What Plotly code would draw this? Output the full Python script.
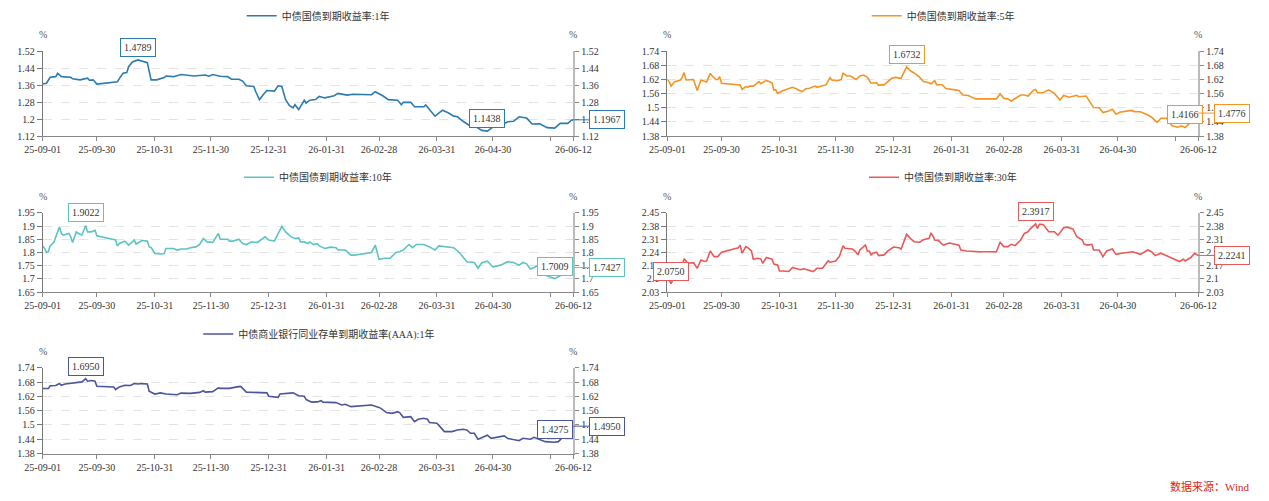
import plotly.graph_objects as go
import pandas as pd

BASE = "2025-09-01"
X_TICK_DATES = ["2025-09-01", "2025-09-30", "2025-10-31", "2025-11-30", "2025-12-31",
                "2026-01-31", "2026-02-28", "2026-03-31", "2026-04-30", "2026-05-31", "2026-06-12"]
X_TICK_TEXT = ["25-09-01", "25-09-30", "25-10-31", "25-11-30", "25-12-31",
               "26-01-31", "26-02-28", "26-03-31", "26-04-30", "", "26-06-12"]
X_END = "2026-06-12"

# ---- 中债国债到期收益率:1年 (days since BASE, %) ----
S1_NAME = "中债国债到期收益率:1年"
S1_DAYS = [0, 2, 4, 7, 8, 10, 15, 16, 20, 22, 24, 25, 27, 29, 40, 41, 43, 45, 46, 48, 51, 56, 57, 58, 61,
           65, 66, 70, 74, 81, 87, 89, 91, 95, 99, 101, 105, 107, 109, 113, 114, 116, 118, 120, 124, 126,
           128, 130, 132, 134, 135, 137, 140, 141, 143, 146, 148, 151, 156, 158, 163, 166, 176, 178, 182,
           185, 190, 192, 193, 197, 199, 204, 205, 208, 210, 214, 217, 220, 222, 225, 229, 232, 235, 238,
           240, 242, 245, 249, 252, 255, 259, 262, 266, 270, 274, 277, 281, 283, 284]
S1_VALS = [1.365, 1.369, 1.397, 1.400, 1.416, 1.400, 1.397, 1.390, 1.385, 1.388, 1.393, 1.383, 1.385,
           1.365, 1.376, 1.391, 1.416, 1.419, 1.447, 1.469, 1.4789, 1.466, 1.416, 1.385, 1.385, 1.396,
           1.403, 1.400, 1.410, 1.403, 1.408, 1.402, 1.410, 1.402, 1.400, 1.388, 1.388, 1.379, 1.357,
           1.354, 1.330, 1.292, 1.315, 1.335, 1.332, 1.357, 1.354, 1.292, 1.264, 1.253, 1.268, 1.245,
           1.289, 1.276, 1.289, 1.292, 1.307, 1.300, 1.310, 1.321, 1.313, 1.317, 1.315, 1.329, 1.310,
           1.292, 1.289, 1.268, 1.279, 1.279, 1.258, 1.258, 1.267, 1.237, 1.214, 1.242, 1.230, 1.214,
           1.211, 1.190, 1.167, 1.164, 1.147, 1.1438, 1.158, 1.170, 1.170, 1.188, 1.190, 1.211, 1.205,
           1.177, 1.178, 1.160, 1.158, 1.180, 1.180, 1.195, 1.1967]
Y1_TICKS = [1.12, 1.2, 1.28, 1.36, 1.44, 1.52]

# ---- 中债国债到期收益率:5年 ----
S2_NAME = "中债国债到期收益率:5年"
S2_DAYS = [0, 1, 2, 4, 7, 8, 9, 10, 14, 16, 18, 20, 21, 23, 24, 26, 27, 28, 29, 39, 40, 42, 43, 44, 46,
           49, 50, 53, 56, 57, 58, 59, 62, 67, 69, 72, 74, 76, 79, 80, 83, 85, 87, 88, 91, 93, 94, 96, 98,
           101, 103, 105, 107, 109, 112, 113, 115, 116, 120, 122, 125, 128, 130, 133, 135, 137, 140, 141,
           143, 144, 147, 149, 154, 156, 158, 161, 164, 165, 176, 178, 180, 182, 184, 186, 189, 191, 193,
           196, 197, 198, 201, 204, 207, 210, 212, 215, 219, 220, 224, 228, 231, 233, 236, 238, 240, 242,
           248, 250, 253, 257, 259, 262, 264, 267, 270, 273, 275, 277, 279, 282, 284]
S2_VALS = [1.620, 1.611, 1.592, 1.611, 1.618, 1.629, 1.649, 1.618, 1.620, 1.573, 1.618, 1.612, 1.609,
           1.646, 1.635, 1.620, 1.620, 1.632, 1.604, 1.597, 1.578, 1.590, 1.587, 1.592, 1.592, 1.611,
           1.602, 1.616, 1.606, 1.576, 1.576, 1.561, 1.573, 1.587, 1.581, 1.568, 1.581, 1.583, 1.592,
           1.587, 1.595, 1.598, 1.628, 1.618, 1.615, 1.620, 1.646, 1.635, 1.635, 1.620, 1.635, 1.639,
           1.629, 1.604, 1.606, 1.595, 1.598, 1.597, 1.625, 1.629, 1.625, 1.6732, 1.657, 1.643, 1.629,
           1.611, 1.606, 1.601, 1.615, 1.598, 1.598, 1.582, 1.576, 1.573, 1.554, 1.552, 1.540, 1.538,
           1.538, 1.559, 1.540, 1.538, 1.529, 1.538, 1.554, 1.554, 1.550, 1.576, 1.578, 1.564, 1.564,
           1.576, 1.561, 1.533, 1.552, 1.545, 1.553, 1.547, 1.550, 1.501, 1.500, 1.480, 1.486, 1.494,
           1.473, 1.481, 1.489, 1.484, 1.483, 1.470, 1.460, 1.438, 1.456, 1.456, 1.424, 1.418, 1.424,
           1.4166, 1.432, 1.455, 1.4776]
Y2_TICKS = [1.38, 1.44, 1.5, 1.56, 1.62, 1.68, 1.74]

# ---- 中债国债到期收益率:10年 ----
S3_NAME = "中债国债到期收益率:10年"
S3_DAYS = [0, 1, 2, 3, 4, 6, 7, 9, 10, 11, 14, 15, 16, 18, 19, 21, 23, 24, 26, 28, 29, 39, 40, 41, 43,
           44, 46, 49, 50, 53, 56, 57, 58, 60, 63, 65, 66, 70, 72, 74, 77, 79, 82, 84, 86, 88, 91, 94, 95,
           99, 100, 102, 105, 107, 109, 112, 114, 115, 119, 121, 124, 128, 130, 133, 135, 137, 138, 140,
           142, 143, 145, 147, 148, 151, 154, 157, 158, 162, 165, 167, 176, 178, 180, 183, 186, 189, 191,
           193, 196, 198, 200, 204, 207, 210, 212, 216, 220, 223, 227, 231, 233, 235, 238, 241, 245, 249,
           252, 255, 257, 259, 261, 263, 265, 267, 270, 274, 276, 279, 284]
S3_VALS = [1.824, 1.815, 1.800, 1.803, 1.825, 1.838, 1.859, 1.897, 1.872, 1.866, 1.872, 1.859, 1.838,
           1.878, 1.872, 1.866, 1.9022, 1.878, 1.878, 1.884, 1.863, 1.847, 1.824, 1.834, 1.840, 1.843,
           1.828, 1.847, 1.832, 1.845, 1.843, 1.821, 1.819, 1.796, 1.794, 1.796, 1.815, 1.815, 1.809,
           1.813, 1.813, 1.818, 1.821, 1.830, 1.853, 1.840, 1.838, 1.872, 1.850, 1.850, 1.843, 1.843,
           1.850, 1.834, 1.830, 1.840, 1.838, 1.838, 1.859, 1.847, 1.843, 1.899, 1.878, 1.859, 1.853,
           1.855, 1.840, 1.840, 1.834, 1.840, 1.830, 1.833, 1.825, 1.815, 1.820, 1.818, 1.809, 1.809,
           1.790, 1.790, 1.800, 1.828, 1.774, 1.778, 1.778, 1.800, 1.803, 1.809, 1.830, 1.818, 1.830,
           1.830, 1.821, 1.809, 1.825, 1.821, 1.818, 1.800, 1.765, 1.762, 1.740, 1.761, 1.767, 1.745,
           1.752, 1.765, 1.762, 1.752, 1.762, 1.757, 1.737, 1.743, 1.752, 1.758, 1.711, 1.7009, 1.708,
           1.721, 1.7427]
Y3_TICKS = [1.65, 1.7, 1.75, 1.8, 1.85, 1.9, 1.95]

# ---- 中债国债到期收益率:30年 ----
S4_NAME = "中债国债到期收益率:30年"
S4_DAYS = [0, 1, 2, 3, 4, 6, 8, 9, 10, 11, 14, 16, 18, 20, 21, 23, 25, 27, 29, 38, 39, 40, 42, 43, 45,
           46, 48, 50, 51, 53, 56, 57, 59, 60, 62, 65, 67, 69, 71, 73, 75, 78, 80, 83, 86, 87, 90, 92, 94,
           95, 99, 101, 102, 103, 105, 106, 107, 108, 109, 110, 112, 113, 116, 118, 121, 124, 125, 128,
           130, 132, 135, 137, 140, 141, 142, 143, 145, 147, 148, 149, 151, 156, 157, 160, 167, 176, 178,
           180, 182, 184, 186, 189, 191, 193, 194, 197, 198, 199, 201, 204, 207, 209, 212, 214, 217, 219,
           222, 223, 225, 227, 228, 231, 233, 235, 238, 240, 243, 249, 253, 257, 259, 261, 264, 267, 271,
           274, 276, 277, 280, 282, 284]
S4_VALS = [2.112, 2.090, 2.0750, 2.095, 2.130, 2.156, 2.174, 2.206, 2.195, 2.183, 2.186, 2.156, 2.200,
           2.192, 2.195, 2.248, 2.218, 2.218, 2.241, 2.265, 2.279, 2.236, 2.271, 2.265, 2.248, 2.204,
           2.209, 2.206, 2.183, 2.213, 2.204, 2.178, 2.174, 2.142, 2.142, 2.139, 2.160, 2.153, 2.148,
           2.153, 2.148, 2.139, 2.156, 2.156, 2.195, 2.188, 2.195, 2.218, 2.276, 2.262, 2.258, 2.241,
           2.227, 2.253, 2.271, 2.279, 2.248, 2.248, 2.227, 2.236, 2.241, 2.223, 2.227, 2.248, 2.269,
           2.265, 2.257, 2.336, 2.315, 2.297, 2.294, 2.308, 2.315, 2.341, 2.329, 2.306, 2.304, 2.283,
           2.279, 2.285, 2.290, 2.279, 2.253, 2.248, 2.244, 2.244, 2.294, 2.271, 2.271, 2.283, 2.276,
           2.306, 2.341, 2.350, 2.364, 2.3917, 2.367, 2.389, 2.388, 2.350, 2.350, 2.332, 2.371, 2.374,
           2.364, 2.323, 2.306, 2.283, 2.279, 2.283, 2.253, 2.253, 2.218, 2.248, 2.258, 2.230, 2.236,
           2.244, 2.230, 2.253, 2.244, 2.223, 2.236, 2.223, 2.206, 2.192, 2.204, 2.195, 2.213, 2.236,
           2.2241]
Y4_TICKS = [2.03, 2.1, 2.17, 2.24, 2.31, 2.38, 2.45]

# ---- 中债商业银行同业存单到期收益率(AAA):1年 ----
S5_NAME = "中债商业银行同业存单到期收益率(AAA):1年"
S5_DAYS = [0, 3, 4, 7, 9, 10, 12, 14, 15, 19, 21, 23, 24, 26, 28, 29, 38, 39, 41, 44, 47, 49, 51, 53,
           56, 57, 60, 63, 66, 72, 74, 79, 84, 86, 87, 91, 94, 95, 100, 104, 106, 109, 113, 120, 121, 126,
           127, 130, 134, 137, 140, 141, 144, 147, 149, 150, 157, 160, 162, 165, 176, 180, 181, 184, 187,
           190, 191, 193, 195, 197, 199, 201, 204, 206, 207, 211, 213, 215, 219, 222, 225, 227, 229, 231,
           233, 236, 238, 240, 243, 247, 249, 252, 255, 257, 259, 261, 263, 269, 274, 276, 279, 282, 283,
           284]
S5_VALS = [1.653, 1.653, 1.665, 1.666, 1.674, 1.667, 1.672, 1.674, 1.672, 1.676, 1.681, 1.6950, 1.684,
           1.687, 1.684, 1.663, 1.660, 1.649, 1.660, 1.667, 1.666, 1.674, 1.672, 1.674, 1.672, 1.642,
           1.630, 1.635, 1.630, 1.627, 1.634, 1.633, 1.637, 1.644, 1.638, 1.640, 1.656, 1.654, 1.654,
           1.660, 1.662, 1.638, 1.638, 1.635, 1.621, 1.616, 1.630, 1.633, 1.635, 1.623, 1.621, 1.607,
           1.596, 1.597, 1.602, 1.596, 1.594, 1.584, 1.587, 1.577, 1.584, 1.574, 1.570, 1.552, 1.549,
           1.556, 1.552, 1.532, 1.535, 1.535, 1.514, 1.524, 1.528, 1.524, 1.510, 1.507, 1.490, 1.472,
           1.472, 1.479, 1.482, 1.479, 1.465, 1.465, 1.440, 1.451, 1.457, 1.444, 1.449, 1.454, 1.443,
           1.437, 1.434, 1.444, 1.443, 1.440, 1.448, 1.430, 1.4275, 1.430, 1.454, 1.472, 1.490, 1.495]
Y5_TICKS = [1.38, 1.44, 1.5, 1.56, 1.62, 1.68, 1.74]

COLORS = ["#2C7BB0", "#F39425", "#5CC5C4", "#E8595A", "#4A5697"]
SOURCE_TEXT = "数据来源：Wind"

W, H = 1269, 501
FONT = "'Liberation Serif', 'Times New Roman', 'Noto Sans CJK SC', serif"


def fx(p):
    return p / W


def fy(p):
    return 1 - p / H


# pixel layout of each panel: (x0, x1), (ytop, ybottom), legend text start x / centre y
panels = [
    dict(name=S1_NAME, days=S1_DAYS, vals=S1_VALS, ticks=Y1_TICKS, xd=(42.7, 573.3), yd=(51.0, 136.3), lg=(282.7, 16.7)),
    dict(name=S2_NAME, days=S2_DAYS, vals=S2_VALS, ticks=Y2_TICKS, xd=(667.3, 1198.3), yd=(51.0, 136.3), lg=(907.7, 16.7)),
    dict(name=S3_NAME, days=S3_DAYS, vals=S3_VALS, ticks=Y3_TICKS, xd=(42.7, 573.3), yd=(212.7, 292.2), lg=(280.0, 178.3)),
    dict(name=S4_NAME, days=S4_DAYS, vals=S4_VALS, ticks=Y4_TICKS, xd=(667.3, 1198.3), yd=(212.7, 292.2), lg=(905.0, 178.3)),
    dict(name=S5_NAME, days=S5_DAYS, vals=S5_VALS, ticks=Y5_TICKS, xd=(42.7, 573.3), yd=(367.7, 453.7), lg=(239.3, 335.0)),
]

fig = go.Figure()
layout = dict(template="none", width=W, height=H, autosize=False, margin=dict(l=0, r=0, t=0, b=0, pad=0),
              paper_bgcolor="white", plot_bgcolor="white",
              font=dict(family=FONT, size=10, color="#333"), hovermode=False)
annotations = []
base = pd.Timestamp(BASE)

for i, p in enumerate(panels, start=1):
    color = COLORS[i - 1]
    xa = "x" if i == 1 else f"x{i}"
    ya = "y" if i == 1 else f"y{i}"
    yr = f"y{i + 5}"
    leg = "legend" if i == 1 else f"legend{i}"
    dates = [base + pd.Timedelta(days=d) for d in p["days"]]
    vals = p["vals"]
    fig.add_trace(go.Scatter(x=dates, y=vals, mode="lines", name=p["name"],
                             line=dict(color=color, width=1.6),
                             xaxis=xa, yaxis=ya, legend=leg, showlegend=True))
    # same series bound to the right-hand axis so that axis is drawn (invisible line)
    fig.add_trace(go.Scatter(x=dates, y=vals, mode="lines", name=p["name"],
                             line=dict(color="rgba(0,0,0,0)", width=0),
                             xaxis=xa, yaxis=yr, showlegend=False, hoverinfo="skip"))

    lo, hi = min(p["ticks"]), max(p["ticks"])
    eps = (hi - lo) * 0.002
    ticktext = [f"{t:g}" for t in p["ticks"]]
    xdom = [fx(p["xd"][0]), fx(p["xd"][1])]
    ydom = [fy(p["yd"][1]), fy(p["yd"][0])]

    layout["xaxis" if i == 1 else f"xaxis{i}"] = dict(
        type="date", domain=xdom, anchor=ya, range=[BASE, X_END], automargin=False,
        tickmode="array", tickvals=X_TICK_DATES, ticktext=X_TICK_TEXT,
        ticks="outside", ticklen=4, tickcolor="#888", showline=True, linecolor="#888",
        linewidth=1, showgrid=False, zeroline=False, tickfont=dict(size=10, color="#333", family=FONT))
    layout["yaxis" if i == 1 else f"yaxis{i}"] = dict(
        domain=ydom, anchor=xa, range=[lo - eps, hi + eps], automargin=False,
        tickmode="array", tickvals=p["ticks"], ticktext=ticktext,
        ticks="outside", ticklen=5, tickcolor="#777", showline=True, linecolor="#777",
        showgrid=True, gridcolor="#e3e3e3", griddash="dash", gridwidth=1, zeroline=False,
        tickfont=dict(size=10, color="#333", family=FONT))
    layout[f"yaxis{i + 5}"] = dict(
        overlaying=ya, side="right", anchor=xa, range=[lo - eps, hi + eps], automargin=False,
        tickmode="array", tickvals=p["ticks"], ticktext=ticktext,
        ticks="outside", ticklen=4, tickcolor="#888", showline=True, linecolor="#bbb",
        linewidth=2, showgrid=False, zeroline=False, tickfont=dict(size=10, color="#333", family=FONT))

    layout[leg] = dict(x=fx(p["lg"][0] - 41), y=fy(p["lg"][1] - 1), xanchor="left", yanchor="middle",
                       bgcolor="rgba(0,0,0,0)", borderwidth=0, itemwidth=30,
                       font=dict(size=10, color="#333", family=FONT))

    # unit labels
    for xp in p["xd"]:
        annotations.append(dict(text="%", xref="paper", yref="paper", x=fx(xp), y=fy(p["yd"][0] - 16.5),
                                showarrow=False, xanchor="center", yanchor="middle",
                                font=dict(size=10, color="#555", family=FONT)))

    box = dict(xref=xa, yref=ya, bordercolor=color, borderwidth=1, borderpad=3,
               bgcolor="white", font=dict(size=10, color="#333", family=FONT))
    imax = max(range(len(vals)), key=lambda k: vals[k])
    imin = min(range(len(vals)), key=lambda k: vals[k])
    for k in (imax, imin):
        annotations.append(dict(box, x=dates[k], y=vals[k], text=f"{vals[k]:.4f}", showarrow=False,
                                xanchor="center", yanchor="bottom", yshift=3))
    annotations.append(dict(box, x=dates[-1], y=vals[-1], text=f"{vals[-1]:.4f}", showarrow=True,
                            arrowhead=0, arrowwidth=1, arrowcolor=color, ax=34, ay=0))

annotations.append(dict(text=SOURCE_TEXT, xref="paper", yref="paper", x=fx(1251), y=fy(486),
                        xanchor="right", yanchor="middle", showarrow=False,
                        font=dict(size=11, color="#D7261E", family=FONT)))
layout["annotations"] = annotations
fig.update_layout(**layout)
fig.write_html("out.html")
